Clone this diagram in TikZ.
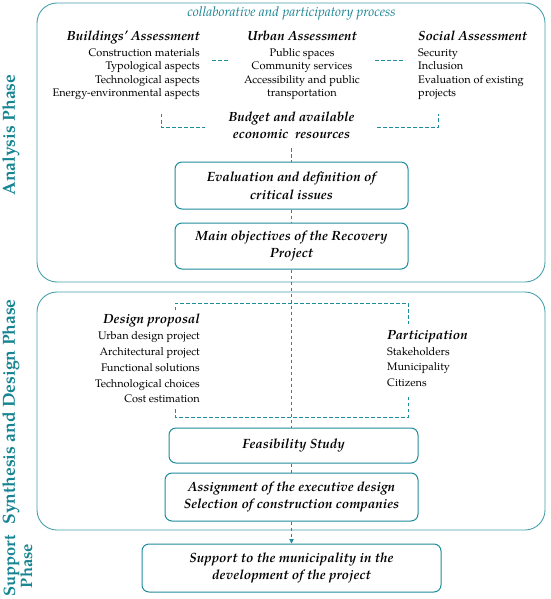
\documentclass[tikz,border=0pt]{standalone}
\usepackage{fontspec}
\setmainfont{TeX Gyre Pagella}
\usetikzlibrary{arrows.meta}
\definecolor{tealc}{RGB}{30,140,155}
\definecolor{tealo}{RGB}{70,160,172}
\definecolor{tealt}{RGB}{22,132,146}
\newcommand{\grptitle}[1]{{\fontsize{13.3}{15}\selectfont\bfseries\itshape #1}}
\begin{document}
\begin{tikzpicture}[x=1pt,y=-1pt,
 phase/.style={text=tealt, font=\fontsize{17.5}{17}\selectfont\bfseries, rotate=90, align=center, inner sep=0},
 phasebox/.style={draw=tealo, line width=0.9pt, rounded corners=20pt, inner sep=0},
 stepbox/.style={draw=tealc, line width=1pt, rounded corners=7pt, inner sep=0, align=center, font=\fontsize{13.4}{17.5}\selectfont\bfseries\itshape},
 listtext/.style={inner sep=0, font=\fontsize{11}{13.5}\selectfont},
 dlist/.style={inner sep=0, font=\fontsize{11}{15.8}\selectfont},
 dashline/.style={draw=tealc, line width=0.8pt, dash pattern=on 3.5pt off 2.5pt},
]
\useasboundingbox (0,0) rectangle (550,599);

% phase boxes
\node[phasebox, minimum width=508, minimum height=279] (ana) at (291,142.5) {};
\node[phasebox, minimum width=508, minimum height=238] (syn) at (291,411) {};

% phase labels
\node[phase] (lana) at (11,135) {Analysis Phase};
\node[phase] (lsyn) at (11,412) {Synthesis and Design Phase};
\node[phase, font=\fontsize{16.5}{16}\selectfont\bfseries] (lsup) at (18,566) {Support\\Phase};

% title
\node[text=tealt, font=\fontsize{13.5}{15}\selectfont\itshape, inner sep=0] (collab) at (291.5,13) {collaborative and participatory process};

% assessments
\node[listtext, anchor=north east, align=right] (build) at (200,30.5) {\grptitle{Buildings' Assessment}\\[2.5pt]Construction materials\\Typological aspects\\Technological aspects\\Energy-environmental aspects};
\node[listtext, anchor=north, align=center] (urban) at (302,30.5) {\grptitle{Urban Assessment}\\[2.5pt]Public spaces\\Community services\\Accessibility and public\\transportation};
\node[listtext, anchor=north west, align=left] (social) at (418,30.5) {\grptitle{Social Assessment}\\[2.5pt]Security\\Inclusion\\Evaluation of existing\\projects};

\coordinate (bu1) at (212,60);
\coordinate (bu2) at (230,60);
\draw[dashline] (bu1) -- (bu2);
\coordinate (us1) at (375,60);
\coordinate (us2) at (405,60);
\draw[dashline] (us1) -- (us2);

% budget
\node[font=\fontsize{13.3}{17}\selectfont\bfseries\itshape, align=center, inner sep=0] (budget) at (291.5,125.5) {Budget and available\\economic~ resources};
\coordinate (bl1) at (161,114);
\coordinate (bl2) at (205,127);
\draw[dashline] (bl1) |- (bl2);
\coordinate (br1) at (377,127);
\coordinate (br2) at (438,114);
\draw[dashline] (br1) -| (br2);

% steps
\node[stepbox, minimum width=233, minimum height=47] (eval) at (291.5,185.5) {Evaluation and definition of\\critical issues};
\node[stepbox, minimum width=233, minimum height=46] (obj) at (291.5,246) {Main objectives of the Recovery\\Project};

% design
\node[dlist, anchor=north east, align=right] (design) at (200,314) {\grptitle{Design proposal}\\Urban design project\\Architectural project\\Functional solutions\\Technological choices\\Cost estimation};
\node[dlist, anchor=north west, align=left] (partic) at (387,330) {\grptitle{Participation}\\Stakeholders\\Municipality\\Citizens};

\coordinate (dtl) at (175,310);
\coordinate (dtop) at (291.5,303);
\coordinate (dtr) at (408,324);
\draw[dashline] (dtl) |- (dtop) -| (dtr);
\coordinate (dbl) at (175,409);
\coordinate (dbot) at (291.5,417);
\coordinate (dbr) at (408,397);
\draw[dashline] (dbl) |- (dbot) -| (dbr);

\node[stepbox, minimum width=249, minimum height=35] (feas) at (293.5,445.5) {Feasibility Study};
\node[stepbox, minimum width=253, minimum height=48] (assign) at (291.5,497) {Assignment of the executive design\\Selection of construction companies};
\node[stepbox, minimum width=299, minimum height=48] (supp) at (291.5,568) {Support to the municipality in the\\development of the project};

% central line
\draw[dashline, shorten <=9pt] (budget.south) -- (eval.north);
\draw[dashline] (eval.south) -- (obj.north);
\draw[dashline] (obj.south) -- (obj.south |- feas.north);
\draw[dashline] (feas.south -| assign.north) -- (assign.north);
\draw[dashline, -{Triangle[length=4.5pt,width=4.5pt]}] (assign.south) -- (supp.north);
\end{tikzpicture}
\end{document}
